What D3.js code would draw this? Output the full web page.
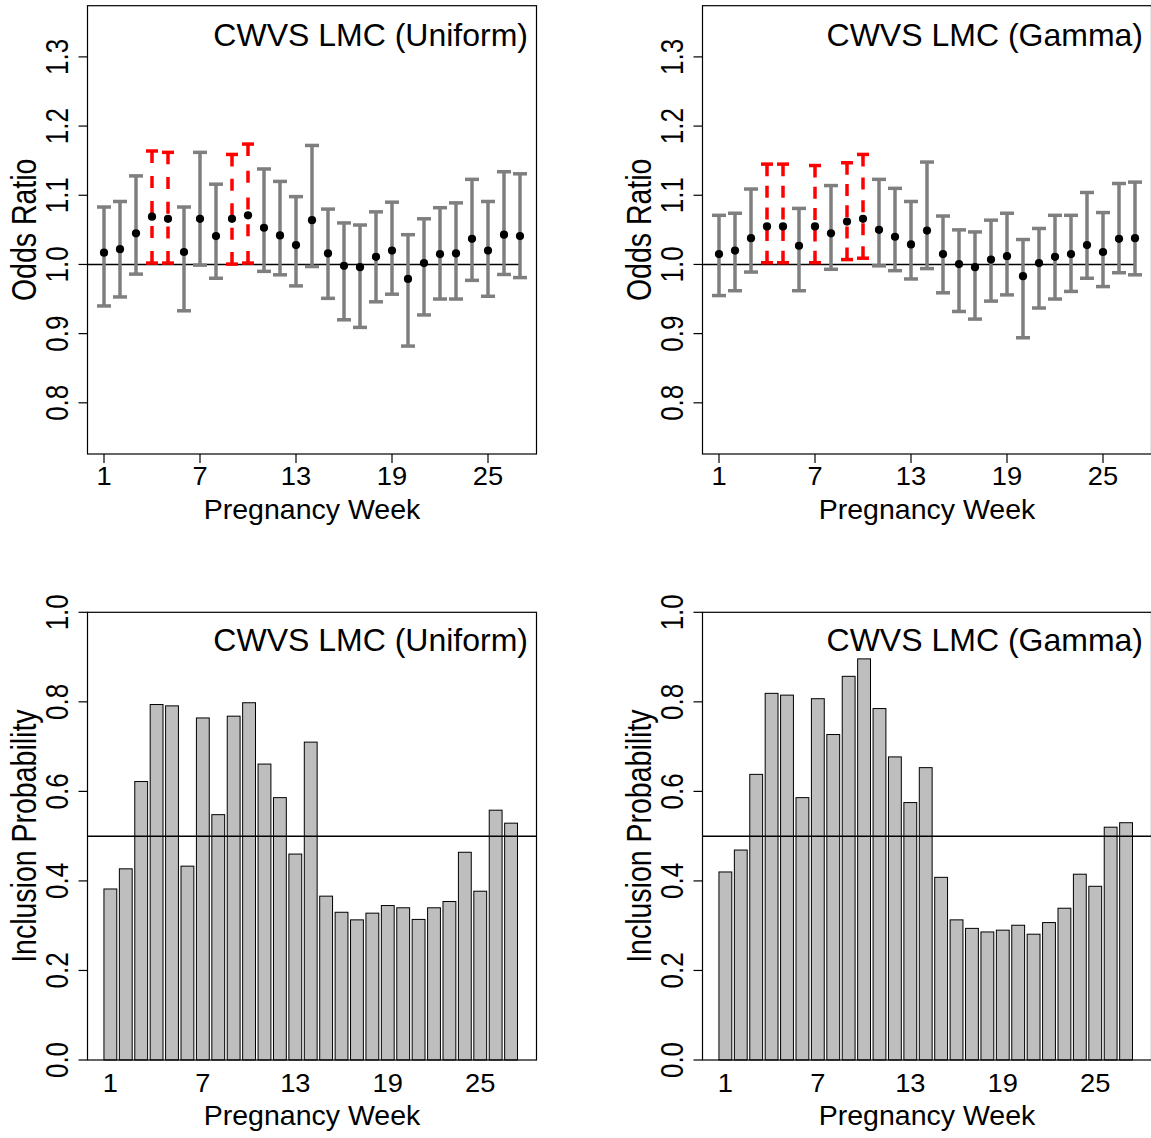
<!DOCTYPE html>
<html>
<head>
<meta charset="utf-8">
<script src="https://cdn.jsdelivr.net/npm/d3@7/dist/d3.min.js"></script>
<style>
  html, body { margin: 0; padding: 0; background: #fff; }
  svg { display: block; }
  text { font-family: "Liberation Sans", Arial, Helvetica, sans-serif; fill: #000; }
</style>
</head>
<body>
<svg id="chart" width="1151" height="1138"></svg>
<script>
// Pregnancy weeks 1..27
const weeks = d3.range(1, 28);

// Odds ratio posterior means and 95% credible intervals, uniform prior
const orUniform   = [1.017, 1.022, 1.045, 1.069, 1.066, 1.018, 1.066, 1.041, 1.066, 1.071, 1.053, 1.042, 1.028, 1.064,
                     1.016, 0.998, 0.996, 1.011, 1.020, 0.979, 1.002, 1.015, 1.016, 1.037, 1.020, 1.043, 1.041];
const lowUniform  = [0.940, 0.953, 0.986, 1.002, 1.002, 0.933, 0.999, 0.980, 1.0005, 1.002, 0.990, 0.985, 0.969, 0.997,
                     0.951, 0.920, 0.909, 0.946, 0.957, 0.882, 0.927, 0.950, 0.950, 0.977, 0.954, 0.9855, 0.981];
const highUniform = [1.083, 1.091, 1.128, 1.164, 1.162, 1.083, 1.162, 1.116, 1.159, 1.174, 1.138, 1.120, 1.098, 1.172,
                     1.080, 1.060, 1.057, 1.076, 1.090, 1.043, 1.066, 1.082, 1.089, 1.123, 1.091, 1.134, 1.131];

// Odds ratio posterior means and 95% credible intervals, gamma prior
const orGamma   = [1.015, 1.020, 1.038, 1.055, 1.055, 1.027, 1.055, 1.045, 1.062, 1.066, 1.050, 1.040, 1.029, 1.049,
                   1.015, 1.0005, 0.996, 1.007, 1.012, 0.983, 1.002, 1.011, 1.015, 1.028, 1.018, 1.037, 1.038];
const lowGamma  = [0.955, 0.962, 0.989, 1.0025, 1.0025, 0.962, 1.0025, 0.993, 1.007, 1.009, 0.998, 0.991, 0.979, 0.994,
                   0.959, 0.932, 0.921, 0.947, 0.956, 0.894, 0.937, 0.950, 0.961, 0.980, 0.968, 0.988, 0.985];
const highGamma = [1.071, 1.074, 1.109, 1.145, 1.145, 1.081, 1.143, 1.114, 1.147, 1.159, 1.123, 1.110, 1.091, 1.148,
                   1.070, 1.050, 1.047, 1.064, 1.074, 1.036, 1.052, 1.071, 1.071, 1.104, 1.075, 1.117, 1.119];

// Posterior inclusion probabilities
const probUniform = [0.382, 0.427, 0.622, 0.794, 0.791, 0.433, 0.764, 0.548, 0.768, 0.798, 0.661, 0.586, 0.460, 0.710,
                     0.366, 0.330, 0.313, 0.328, 0.345, 0.340, 0.314, 0.340, 0.354, 0.464, 0.377, 0.558, 0.529];
const probGamma   = [0.420, 0.469, 0.638, 0.819, 0.815, 0.586, 0.807, 0.727, 0.857, 0.896, 0.785, 0.677, 0.575, 0.653,
                     0.408, 0.313, 0.294, 0.286, 0.290, 0.301, 0.281, 0.307, 0.339, 0.415, 0.388, 0.520, 0.530];

// Axis ticks
const weekTicks = [1, 7, 13, 19, 25];
const orTicks   = [0.8, 0.9, 1.0, 1.1, 1.2, 1.3];
const probTicks = [0.0, 0.2, 0.4, 0.6, 0.8, 1.0];

const svg = d3.select("#chart");
const fmt1 = d3.format(".1f");

const TICK = 9;
const TICK_FONT = 26, LAB_FONT = 28.5, TITLE_FONT = 32;
const ROT_STRETCH = 1.2;   // vertical axis text is drawn slightly wider across its glyph height
const TICK_STRETCH = 1.05;

function frame(g, x0, x1, y0, y1) {
  g.append("rect")
    .attr("x", x0).attr("y", y0)
    .attr("width", x1 - x0).attr("height", y1 - y0)
    .attr("fill", "none").attr("stroke", "#000").attr("stroke-width", 1.2);
}

function yAxis(g, y, ticks, x0, label, midY) {
  ticks.forEach(t => {
    g.append("line")
      .attr("x1", x0 - TICK).attr("x2", x0)
      .attr("y1", y(t)).attr("y2", y(t))
      .attr("stroke", "#000").attr("stroke-width", 1.2);
    g.append("text")
      .attr("transform", `translate(${x0 - 19.5},${y(t)}) scale(${ROT_STRETCH},1) rotate(-90)`)
      .attr("text-anchor", "middle")
      .attr("font-size", TICK_FONT)
      .text(fmt1(t));
  });
  g.append("text")
    .attr("transform", `translate(${x0 - 52},${midY}) scale(${ROT_STRETCH},1) rotate(-90)`)
    .attr("text-anchor", "middle")
    .attr("font-size", LAB_FONT)
    .text(label);
}

function xTickLabel(g, x, yBase, t) {
  g.append("text")
    .attr("transform", `translate(${x},${yBase}) scale(${TICK_STRETCH},1)`)
    .attr("text-anchor", "middle")
    .attr("font-size", TICK_FONT)
    .text(t);
}

function title(g, xRight, yBase, txt) {
  g.append("text")
    .attr("x", xRight).attr("y", yBase)
    .attr("text-anchor", "end")
    .attr("font-size", TITLE_FONT)
    .text(txt);
}

// Dash pattern that starts and ends on a dash so both caps keep a stub
function fittedDash(len, dash) {
  const n = Math.max(2, Math.round((len + dash) / (2 * dash)));
  const gap = (len - n * dash) / (n - 1);
  return `${dash},${Math.max(gap, 2)}`;
}

// Odds ratio panel: point estimates with interval bars
function oddsPanel(dx, est, lo, hi, name) {
  const g = svg.append("g").attr("transform", `translate(${dx},0)`);
  const x = d3.scaleLinear().domain([0, 28]).range([88, 536]);
  const y = d3.scaleLinear().domain([0.726, 1.374]).range([454, 5.7]);
  const top = y.range()[1], bot = y.range()[0];

  // reference line at OR = 1
  g.append("line")
    .attr("x1", x(0)).attr("x2", x(27))
    .attr("y1", y(1)).attr("y2", y(1))
    .attr("stroke", "#000").attr("stroke-width", 1.5);

  weeks.forEach((w, i) => {
    const sig = lo[i] > 1;
    const col = sig ? "#FF0000" : "#7F7F7F";
    const capHalf = sig ? 6 : 7;
    const xc = x(w);
    const y0 = y(lo[i]), y1 = y(hi[i]);
    g.append("line")
      .attr("x1", xc).attr("x2", xc)
      .attr("y1", y0).attr("y2", y1)
      .attr("stroke", col).attr("stroke-width", 3.5)
      .attr("stroke-dasharray", sig ? fittedDash(y0 - y1, 12) : null);
    [y0, y1].forEach(v => {
      g.append("line")
        .attr("x1", xc - capHalf).attr("x2", xc + capHalf)
        .attr("y1", v).attr("y2", v)
        .attr("stroke", col).attr("stroke-width", 3.5);
    });
  });

  g.selectAll("circle.est").data(est).enter().append("circle")
    .attr("class", "est")
    .attr("cx", (d, i) => x(weeks[i]))
    .attr("cy", d => y(d))
    .attr("r", 4.1)
    .attr("fill", "#000");

  frame(g, 87.5, 536.5, top, bot);

  weekTicks.forEach(t => {
    g.append("line")
      .attr("x1", x(t)).attr("x2", x(t))
      .attr("y1", bot).attr("y2", bot + TICK)
      .attr("stroke", "#000").attr("stroke-width", 1.2);
    xTickLabel(g, x(t), bot + 31, t);
  });
  g.append("text")
    .attr("x", 312).attr("y", 519)
    .attr("text-anchor", "middle")
    .attr("font-size", LAB_FONT)
    .text("Pregnancy Week");

  yAxis(g, y, orTicks, 87.5, "Odds Ratio", (top + bot) / 2);
  title(g, 528, 45.5, name);
}

// Inclusion probability panel: bar chart
function probPanel(dx, prob, name) {
  const g = svg.append("g").attr("transform", `translate(${dx},0)`);
  const centers = weeks.map((w, i) => 0.7 + 1.2 * i);
  const x = d3.scaleLinear().domain([-1.096, 33.896]).range([87.3, 536.7]);
  const y = d3.scaleLinear().domain([0, 1]).range([1060, 612.3]);

  g.selectAll("rect.bar").data(prob).enter().append("rect")
    .attr("class", "bar")
    .attr("x", (d, i) => x(centers[i] - 0.5))
    .attr("width", x(1) - x(0))
    .attr("y", d => y(d))
    .attr("height", d => y(0) - y(d))
    .attr("fill", "#BEBEBE")
    .attr("stroke", "#000")
    .attr("stroke-width", 1);

  g.append("line")
    .attr("x1", 87.3).attr("x2", 536.7)
    .attr("y1", y(0.5)).attr("y2", y(0.5))
    .attr("stroke", "#000").attr("stroke-width", 1.5);

  frame(g, 87.5, 536.5, y(1), y(0));

  weekTicks.forEach(t => xTickLabel(g, x(centers[t - 1]), y(0) + 31.5, t));
  g.append("text")
    .attr("x", 312).attr("y", 1125)
    .attr("text-anchor", "middle")
    .attr("font-size", LAB_FONT)
    .text("Pregnancy Week");

  yAxis(g, y, probTicks, 87.5, "Inclusion Probability", (y(0) + y(1)) / 2);
  title(g, 528, 651, name);
}

oddsPanel(0, orUniform, lowUniform, highUniform, "CWVS LMC (Uniform)");
oddsPanel(615, orGamma, lowGamma, highGamma, "CWVS LMC (Gamma)");
probPanel(0, probUniform, "CWVS LMC (Uniform)");
probPanel(615, probGamma, "CWVS LMC (Gamma)");
</script>
</body>
</html>
